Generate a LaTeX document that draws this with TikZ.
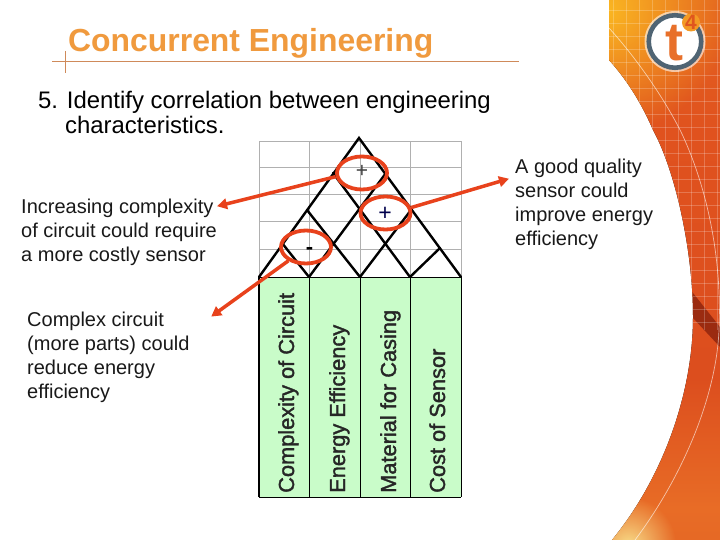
\documentclass[tikz,border=0pt]{standalone}
\usepackage{fontspec}
\setmainfont{Liberation Sans}
\newfontfamily\colfont[FakeBold=1.6]{Liberation Sans}
\usetikzlibrary{shapes.geometric,arrows.meta,fadings}
\tikzfading[name=fadeo,inner color=transparent!0,outer color=transparent!100]
\definecolor{redo}{HTML}{E8421C}
\definecolor{titleo}{HTML}{F09A3E}
\definecolor{ruleo}{HTML}{CF8A5A}
\definecolor{greenf}{HTML}{C9FCC9}
\definecolor{gridg}{HTML}{B0B0B0}
\definecolor{logob}{HTML}{4F6473}
\definecolor{logoo}{HTML}{E8702A}
\definecolor{logof}{HTML}{E0561E}
\definecolor{patcho}{HTML}{F39A24}
\definecolor{sa}{HTML}{E88A30}
\definecolor{sb}{HTML}{E67A2A}
\definecolor{sc}{HTML}{DE5C22}
\definecolor{sd}{HTML}{E86C26}
\definecolor{se}{HTML}{DC4E1E}
\definecolor{sf}{HTML}{E0521E}
\definecolor{sg}{HTML}{E66A20}
\definecolor{sh}{HTML}{E87A22}
\definecolor{topo}{HTML}{FBB822}
\definecolor{yel}{HTML}{F8DC88}
\pgfdeclareverticalshading{bandv}{100bp}{
 color(0bp)=(sa); color(5bp)=(sb); color(14bp)=(sc); color(28bp)=(sd);
 color(40bp)=(se); color(63bp)=(sf); color(80bp)=(sg); color(100bp)=(sh)}
\tikzset{
 x=1pt,y=-1pt,
 ln/.style={font=\fontsize{20}{24}\selectfont,anchor=north west,inner sep=0pt,align=left,text=black!90},
 body/.style={font=\fontsize{23.9}{24}\selectfont,anchor=base west,inner sep=0pt},
 col/.style={font=\colfont\fontsize{21.8}{24}\selectfont,rotate=90,anchor=base west,inner sep=0pt,text=black!85},
 oval/.style={draw=redo,ellipse,line width=3.8pt,minimum width=50pt,minimum height=33pt,inner sep=0pt},
 arrowr/.style={draw=redo,line width=3.5pt,-{Triangle[length=10pt,width=10.5pt]},shorten >=-1pt},
 gl/.style={draw=gridg,line width=1pt},
 qf/.style={black,line width=2.4pt,line cap=round},
 sep/.style={black,line width=.9pt},
 mesh/.style={white,opacity=.22,line width=.5pt},
}
\begin{document}
\begin{tikzpicture}
\useasboundingbox (0,0) rectangle (720,540);
\fill[white] (0,0) rectangle (720,540);
% background swoosh
\begin{scope}
\clip (609,0) -- (609,60) .. controls (620,72) and (638,95) .. (653,130)
 .. controls (675,170) and (693,250) .. (693,317)
 .. controls (693,390) and (665,475) .. (612,540) -- (720,540) -- (720,0) -- cycle;
\fill[shading=bandv] (600,0) rectangle (720,540);
\fill[topo,path fading=fadeo] (605,10) circle (125);
\fill[yel,path fading=fadeo] (628,545) circle (48);
\fill[black!70!red,opacity=.45] (693,293) -- (720,327) -- (720,347) -- (693,318) -- cycle;
\foreach \gx in {613,626,...,720} \draw[mesh] (\gx,0) -- (\gx,330);
\foreach \gy in {10,23,...,330} \draw[mesh] (600,\gy) -- (720,\gy);
\draw[white,opacity=.6,line width=.7pt] (609,28) .. controls (640,62) and (668,105) .. (682,134)
 .. controls (708,190) and (722,260) .. (719,330)
 .. controls (716,400) and (680,480) .. (635,540);
\end{scope}
% logo
\fill[white,opacity=.6] (675,41.5) circle (30.5);
\node[circle,draw=logob,fill=white,line width=4.6pt,minimum size=52.5pt,inner sep=0pt] (logo) at (675,41.5) {};
\fill[patcho] (691,22.5) circle (9);
\node[font=\fontsize{54}{54}\bfseries\selectfont,text=logoo,inner sep=0pt] (logot) at (674,43) {t};
\node[font=\fontsize{21}{21}\bfseries\selectfont,text=logof,inner sep=0pt] (logo4) at (691,22.5) {4};
% title
\node[font=\fontsize{31.9}{32}\bfseries\selectfont,text=titleo,anchor=base west,inner sep=0pt] (title) at (68,52) {Concurrent Engineering};
\coordinate (ra) at (52,62); \coordinate (rb) at (519,62);
\coordinate (rc) at (65,51); \coordinate (rd) at (65,73);
\draw[ruleo,line width=1pt] (ra) -- (rb);
\draw[ruleo,line width=1pt] (rc) -- (rd);
% body
\node[body] (b1) at (38,109) {5. Identify correlation between engineering};
\node[body] (b2) at (65,134) {characteristics.};
% matrix grid
\foreach \gx in {259,309.5,360,410.5,461} \draw[gl] (\gx,141.5) -- (\gx,277);
\foreach \gy in {141.5,167.5,195,221.5,249} \draw[gl] (259,\gy) -- (461,\gy);
% green body
\fill[greenf] (259,277) rectangle (461,497);
% roof
\coordinate (ap) at (359,138);
\coordinate (b0) at (259,277); \coordinate (b1c) at (309,277);
\coordinate (b2c) at (360,277); \coordinate (b3c) at (410,277); \coordinate (b4c) at (461,277);
\coordinate (n1) at (386,173); \coordinate (n2) at (411,210); \coordinate (n3) at (440,248);
\coordinate (m1) at (333,173); \coordinate (m2) at (307,210); \coordinate (m3) at (282,243);
\draw[qf] (b0) -- (ap) -- (b4c);
\draw[qf] (b1c) -- (n1);
\draw[qf] (b2c) -- (n2);
\draw[qf] (b3c) -- (n3);
\draw[qf] (b3c) -- (m1);
\draw[qf] (b2c) -- (m2);
\draw[qf] (b1c) -- (m3);
% green box lines
\draw[sep] (259,277) -- (461,277) (309.5,277) -- (309.5,497) (360,277) -- (360,497) (410.5,277) -- (410.5,497)
 (461,277) -- (461,497) (259,497) -- (461,497);
\draw[black,line width=1.4pt] (259,277) -- (259,497);
% column labels
\node[col] (c1) at (294,493) {Complexity of Circuit};
\node[col] (c2) at (345,493) {Energy Efficiency};
\node[col] (c3) at (396,493) {Material for Casing};
\node[col] (c4) at (445,493) {Cost of Sensor};
% signs
\node[font=\fontsize{21}{21}\selectfont,text=black!75,inner sep=0pt] (p1) at (362,171) {+};
\node[font=\fontsize{23}{23}\selectfont,text=blue!30!black,inner sep=0pt] (p2) at (385,214) {+};
\node[font=\fontsize{22}{22}\bfseries\selectfont,text=black,inner sep=0pt] (m) at (309.5,251) {-};
% ovals
\node[oval] (o1) at (362,173) {};
\node[oval] (o2) at (385.5,213) {};
\node[oval] (o3) at (306,247) {};
% labels
\node[ln] (t1) at (21,198.5) {Increasing complexity\\of circuit could require\\a more costly sensor};
\node[ln] (t2) at (27,311.5) {Complex circuit\\(more parts) could\\reduce energy\\efficiency};
\node[ln] (t3) at (515,158.5) {A good quality\\sensor could\\improve energy\\efficiency};
% arrows
\coordinate (a1) at (218,206);
\coordinate (a2) at (508,179);
\coordinate (a3) at (212,316);
\draw[arrowr] (o1.188) -- (a1);
\draw[arrowr] (o2.12) -- (a2);
\draw[arrowr] (o3.218) -- (a3);
\end{tikzpicture}
\end{document}
